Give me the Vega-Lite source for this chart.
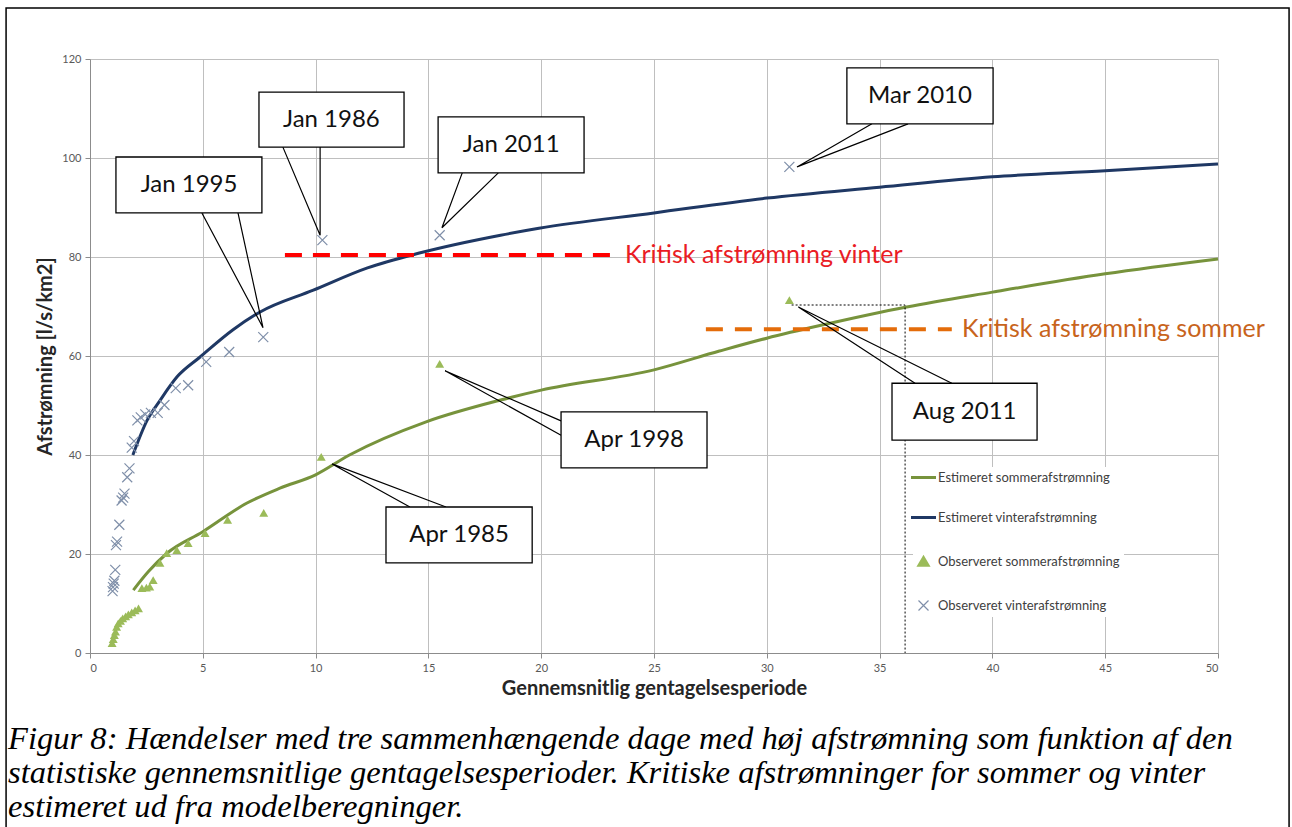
{
  "$schema": "https://vega.github.io/schema/vega-lite/v6.json",
  "width": 1128,
  "height": 594,
  "autosize": "none",
  "padding": {"left": 90, "top": 59, "right": 74, "bottom": 174},
  "background": "white",
  "title": {
    "text": [
      "Figur 8: Hændelser med tre sammenhængende dage med høj afstrømning som funktion af den",
      "statistiske gennemsnitlige gentagelsesperioder. Kritiske afstrømninger for sommer og vinter",
      "estimeret ud fra modelberegninger."
    ],
    "orient": "bottom",
    "anchor": "start",
    "frame": "group",
    "dx": -82,
    "offset": -109,
    "font": "Liberation Serif",
    "fontStyle": "italic",
    "fontWeight": "normal",
    "fontSize": 32.6,
    "lineHeight": 34,
    "color": "#000000",
    "baseline": "top"
  },
  "config": {
    "view": {"stroke": null},
    "font": "Lato",
    "axis": {
      "gridColor": "#bfbfbf",
      "gridWidth": 1,
      "domainColor": "#8c8c8c",
      "tickColor": "#8c8c8c",
      "tickSize": 5,
      "labelFont": "Lato",
      "labelFontSize": 11,
      "labelColor": "#595959",
      "titleFont": "Lato",
      "titleFontSize": 20,
      "titleFontWeight": "bold",
      "titleColor": "#262626"
    }
  },
  "datasets": {
    "est": [
      {"series": "Estimeret sommerafstrømning", "x": 1.92, "y": 12.7},
      {"series": "Estimeret sommerafstrømning", "x": 2.6, "y": 16.5},
      {"series": "Estimeret sommerafstrømning", "x": 3.4, "y": 20.1},
      {"series": "Estimeret sommerafstrømning", "x": 5.0, "y": 24.5},
      {"series": "Estimeret sommerafstrømning", "x": 6.96, "y": 30.3},
      {"series": "Estimeret sommerafstrømning", "x": 8.42, "y": 33.3},
      {"series": "Estimeret sommerafstrømning", "x": 10.0, "y": 36.0},
      {"series": "Estimeret sommerafstrømning", "x": 11.5, "y": 40.0},
      {"series": "Estimeret sommerafstrømning", "x": 14.9, "y": 46.7},
      {"series": "Estimeret sommerafstrømning", "x": 18.2, "y": 51.1},
      {"series": "Estimeret sommerafstrømning", "x": 20.0, "y": 53.1},
      {"series": "Estimeret sommerafstrømning", "x": 25.0, "y": 57.2},
      {"series": "Estimeret sommerafstrømning", "x": 27.9, "y": 61.0},
      {"series": "Estimeret sommerafstrømning", "x": 30.0, "y": 63.6},
      {"series": "Estimeret sommerafstrømning", "x": 32.5, "y": 66.3},
      {"series": "Estimeret sommerafstrømning", "x": 36.2, "y": 69.9},
      {"series": "Estimeret sommerafstrømning", "x": 40.0, "y": 72.9},
      {"series": "Estimeret sommerafstrømning", "x": 45.0, "y": 76.6},
      {"series": "Estimeret sommerafstrømning", "x": 50.0, "y": 79.6},
      {"series": "Estimeret vinterafstrømning", "x": 1.9, "y": 40.0},
      {"series": "Estimeret vinterafstrømning", "x": 2.53, "y": 47.0},
      {"series": "Estimeret vinterafstrømning", "x": 3.1, "y": 51.0},
      {"series": "Estimeret vinterafstrømning", "x": 3.86, "y": 55.8},
      {"series": "Estimeret vinterafstrømning", "x": 4.88, "y": 59.8},
      {"series": "Estimeret vinterafstrømning", "x": 6.34, "y": 65.3},
      {"series": "Estimeret vinterafstrømning", "x": 7.54, "y": 68.9},
      {"series": "Estimeret vinterafstrømning", "x": 9.9, "y": 73.3},
      {"series": "Estimeret vinterafstrømning", "x": 12.3, "y": 77.8},
      {"series": "Estimeret vinterafstrømning", "x": 14.6, "y": 80.8},
      {"series": "Estimeret vinterafstrømning", "x": 18.2, "y": 84.4},
      {"series": "Estimeret vinterafstrømning", "x": 19.9, "y": 85.8},
      {"series": "Estimeret vinterafstrømning", "x": 25.0, "y": 88.9},
      {"series": "Estimeret vinterafstrømning", "x": 30.0, "y": 91.9},
      {"series": "Estimeret vinterafstrømning", "x": 35.0, "y": 94.1},
      {"series": "Estimeret vinterafstrømning", "x": 40.0, "y": 96.2},
      {"series": "Estimeret vinterafstrømning", "x": 45.0, "y": 97.4},
      {"series": "Estimeret vinterafstrømning", "x": 50.0, "y": 98.8}
    ],
    "obs": [
      {"series": "Observeret sommerafstrømning", "x": 0.98, "y": 2.0},
      {"series": "Observeret sommerafstrømning", "x": 1.03, "y": 2.8},
      {"series": "Observeret sommerafstrømning", "x": 1.08, "y": 3.6},
      {"series": "Observeret sommerafstrømning", "x": 1.13, "y": 4.3},
      {"series": "Observeret sommerafstrømning", "x": 1.18, "y": 5.3},
      {"series": "Observeret sommerafstrømning", "x": 1.25, "y": 6.0},
      {"series": "Observeret sommerafstrømning", "x": 1.35, "y": 6.5},
      {"series": "Observeret sommerafstrømning", "x": 1.45, "y": 7.0},
      {"series": "Observeret sommerafstrømning", "x": 1.58, "y": 7.4},
      {"series": "Observeret sommerafstrømning", "x": 1.7, "y": 7.8},
      {"series": "Observeret sommerafstrømning", "x": 1.85, "y": 8.2},
      {"series": "Observeret sommerafstrømning", "x": 2.0, "y": 8.6},
      {"series": "Observeret sommerafstrømning", "x": 2.15, "y": 9.0},
      {"series": "Observeret sommerafstrømning", "x": 2.3, "y": 13.1},
      {"series": "Observeret sommerafstrømning", "x": 2.5, "y": 13.2},
      {"series": "Observeret sommerafstrømning", "x": 2.65, "y": 13.4},
      {"series": "Observeret sommerafstrømning", "x": 2.8, "y": 14.7},
      {"series": "Observeret sommerafstrømning", "x": 3.1, "y": 18.2},
      {"series": "Observeret sommerafstrømning", "x": 3.4, "y": 20.2},
      {"series": "Observeret sommerafstrømning", "x": 3.85, "y": 20.8},
      {"series": "Observeret sommerafstrømning", "x": 4.35, "y": 22.2},
      {"series": "Observeret sommerafstrømning", "x": 5.1, "y": 24.2},
      {"series": "Observeret sommerafstrømning", "x": 6.1, "y": 26.9},
      {"series": "Observeret sommerafstrømning", "x": 7.7, "y": 28.3},
      {"series": "Observeret sommerafstrømning", "x": 10.25, "y": 39.6},
      {"series": "Observeret sommerafstrømning", "x": 15.5, "y": 58.4},
      {"series": "Observeret sommerafstrømning", "x": 31.0, "y": 71.3},
      {"series": "Observeret vinterafstrømning", "x": 1.0, "y": 12.5},
      {"series": "Observeret vinterafstrømning", "x": 1.02, "y": 13.3},
      {"series": "Observeret vinterafstrømning", "x": 1.05, "y": 14.0},
      {"series": "Observeret vinterafstrømning", "x": 1.08, "y": 14.6},
      {"series": "Observeret vinterafstrømning", "x": 1.12, "y": 16.8},
      {"series": "Observeret vinterafstrømning", "x": 1.15, "y": 21.8},
      {"series": "Observeret vinterafstrømning", "x": 1.2, "y": 22.5},
      {"series": "Observeret vinterafstrømning", "x": 1.3, "y": 25.9},
      {"series": "Observeret vinterafstrømning", "x": 1.4, "y": 30.8},
      {"series": "Observeret vinterafstrømning", "x": 1.47, "y": 31.4},
      {"series": "Observeret vinterafstrømning", "x": 1.53, "y": 32.2},
      {"series": "Observeret vinterafstrømning", "x": 1.65, "y": 35.5},
      {"series": "Observeret vinterafstrømning", "x": 1.75, "y": 37.3},
      {"series": "Observeret vinterafstrømning", "x": 1.85, "y": 41.5},
      {"series": "Observeret vinterafstrømning", "x": 1.95, "y": 42.8},
      {"series": "Observeret vinterafstrømning", "x": 2.1, "y": 47.0},
      {"series": "Observeret vinterafstrømning", "x": 2.25, "y": 47.6},
      {"series": "Observeret vinterafstrømning", "x": 2.45, "y": 48.2},
      {"series": "Observeret vinterafstrømning", "x": 2.7, "y": 48.5},
      {"series": "Observeret vinterafstrømning", "x": 3.0, "y": 48.5},
      {"series": "Observeret vinterafstrømning", "x": 3.3, "y": 50.1},
      {"series": "Observeret vinterafstrømning", "x": 3.8, "y": 53.5},
      {"series": "Observeret vinterafstrømning", "x": 4.35, "y": 54.1},
      {"series": "Observeret vinterafstrømning", "x": 5.15, "y": 58.8},
      {"series": "Observeret vinterafstrømning", "x": 6.17, "y": 60.8},
      {"series": "Observeret vinterafstrømning", "x": 7.68, "y": 63.8},
      {"series": "Observeret vinterafstrømning", "x": 10.3, "y": 83.4},
      {"series": "Observeret vinterafstrømning", "x": 15.5, "y": 84.4},
      {"series": "Observeret vinterafstrømning", "x": 31.0, "y": 98.2}
    ],
    "boxes": [
      {"label": "Jan 1995", "x1": 1.15, "x2": 7.62, "y1": 100.2, "y2": 88.9, "cx": 4.39, "cy": 94.55},
      {"label": "Jan 1986", "x1": 7.49, "x2": 13.92, "y1": 113.3, "y2": 102.2, "cx": 10.7, "cy": 107.75},
      {"label": "Jan 2011", "x1": 15.43, "x2": 21.9, "y1": 108.3, "y2": 97.0, "cx": 18.67, "cy": 102.65},
      {"label": "Mar 2010", "x1": 33.55, "x2": 40.03, "y1": 118.2, "y2": 106.9, "cx": 36.79, "cy": 112.55},
      {"label": "Apr 1998", "x1": 20.88, "x2": 27.35, "y1": 48.7, "y2": 37.4, "cx": 24.12, "cy": 43.05},
      {"label": "Apr 1985", "x1": 13.12, "x2": 19.6, "y1": 29.5, "y2": 18.2, "cx": 16.36, "cy": 23.85},
      {"label": "Aug 2011", "x1": 35.55, "x2": 41.98, "y1": 54.5, "y2": 43.0, "cx": 38.77, "cy": 48.75}
    ],
    "wedges": [
      {"name": "Jan 1995", "i": 0, "x": 4.96, "y": 88.9},
      {"name": "Jan 1995", "i": 1, "x": 7.67, "y": 65.7},
      {"name": "Jan 1995", "i": 2, "x": 6.56, "y": 88.9},
      {"name": "Jan 1986", "i": 0, "x": 8.55, "y": 102.2},
      {"name": "Jan 1986", "i": 1, "x": 10.2, "y": 84.4},
      {"name": "Jan 1986", "i": 2, "x": 10.2, "y": 102.2},
      {"name": "Jan 2011", "i": 0, "x": 16.5, "y": 97.0},
      {"name": "Jan 2011", "i": 1, "x": 15.6, "y": 85.9},
      {"name": "Jan 2011", "i": 2, "x": 18.1, "y": 97.0},
      {"name": "Mar 2010", "i": 0, "x": 34.66, "y": 106.9},
      {"name": "Mar 2010", "i": 1, "x": 31.34, "y": 98.2},
      {"name": "Mar 2010", "i": 2, "x": 36.26, "y": 106.9},
      {"name": "Apr 1998", "i": 0, "x": 20.88, "y": 46.9},
      {"name": "Apr 1998", "i": 1, "x": 15.74, "y": 57.0},
      {"name": "Apr 1998", "i": 2, "x": 20.88, "y": 44.0},
      {"name": "Apr 1985", "i": 0, "x": 14.18, "y": 29.5},
      {"name": "Apr 1985", "i": 1, "x": 10.73, "y": 38.2},
      {"name": "Apr 1985", "i": 2, "x": 15.78, "y": 29.5},
      {"name": "Aug 2011", "i": 0, "x": 36.57, "y": 54.5},
      {"name": "Aug 2011", "i": 1, "x": 31.4, "y": 69.9},
      {"name": "Aug 2011", "i": 2, "x": 38.2, "y": 54.5}
    ],
    "crit": [
      {"kind": "vinter", "x": 8.64, "x2": 23.2, "y": 80.4, "label": "Kritisk afstrømning vinter", "lx": 23.71},
      {"kind": "sommer", "x": 27.3, "x2": 38.2, "y": 65.4, "label": "Kritisk afstrømning sommer", "lx": 38.65}
    ],
    "dotted": [
      {"i": 0, "x": 31.1, "y": 70.3},
      {"i": 1, "x": 36.13, "y": 70.3},
      {"i": 2, "x": 36.13, "y": 0}
    ],
    "frame": [
      {"x": -3.72, "x2": 53.15, "y": 130.3, "y2": -36}
    ]
  },
  "layer": [
    {
      "data": {"name": "est"},
      "mark": {"type": "line", "strokeWidth": 3, "interpolate": "monotone"},
      "encoding": {
        "x": {
          "field": "x", "type": "quantitative",
          "scale": {"domain": [0, 50], "nice": false, "zero": false},
          "axis": {"title": "Gennemsnitlig gentagelsesperiode", "values": [0, 5, 10, 15, 20, 25, 30, 35, 40, 45, 50], "grid": true, "labelPadding": 4, "titlePadding": 5}
        },
        "y": {
          "field": "y", "type": "quantitative",
          "scale": {"domain": [0, 120], "nice": false, "zero": false},
          "axis": {"title": "Afstrømning [l/s/km2]", "values": [0, 20, 40, 60, 80, 100, 120], "grid": true, "labelPadding": 4, "titlePadding": 6}
        },
        "color": {
          "field": "series", "type": "nominal",
          "scale": {
            "domain": ["Estimeret sommerafstrømning", "Estimeret vinterafstrømning", "Observeret sommerafstrømning", "Observeret vinterafstrømning"],
            "range": ["#77933c", "#1f3864", "#9bbb59", "#7f8fa9"]
          },
          "legend": {
            "title": null,
            "orient": "none",
            "legendX": 823,
            "legendY": 408,
            "labelFont": "Lato",
            "labelFontSize": 13,
            "labelColor": "#404040",
            "labelOffset": 8,
            "labelLimit": 400,
            "symbolSize": 625,
            "rowPadding": 26,
            "fillColor": "white",
            "padding": 4,
            "encode": {
              "symbols": {
                "update": {
                  "shape": {"signal": "datum.value === 'Observeret sommerafstrømning' ? 'triangle-up' : (datum.value === 'Observeret vinterafstrømning' ? 'M-1,-1L1,1M-1,1L1,-1' : 'stroke')"},
                  "fill": {"signal": "datum.value === 'Observeret sommerafstrømning' ? '#9bbb59' : 'transparent'"},
                  "stroke": {"signal": "datum.value === 'Observeret sommerafstrømning' ? 'transparent' : scale('color', datum.value)"},
                  "strokeWidth": {"signal": "datum.value === 'Observeret vinterafstrømning' ? 1.2 : 3"},
                  "size": {"signal": "datum.value === 'Observeret sommerafstrømning' ? 80 : (datum.value === 'Observeret vinterafstrømning' ? 100 : 625)"},
                  "opacity": {"value": 1}
                }
              }
            }
          }
        }
      }
    },
    {
      "data": {"name": "frame"},
      "mark": {"type": "rect", "fill": null, "stroke": "#000000", "strokeWidth": 1.5, "clip": false},
      "encoding": {
        "x": {"field": "x", "type": "quantitative"},
        "x2": {"field": "x2"},
        "y": {"field": "y", "type": "quantitative"},
        "y2": {"field": "y2"}
      }
    },
    {
      "data": {"name": "obs"},
      "transform": [{"filter": "datum.series === 'Observeret sommerafstrømning'"}],
      "mark": {"type": "point", "shape": "triangle-up", "filled": true, "size": 80, "opacity": 1},
      "encoding": {
        "x": {"field": "x", "type": "quantitative"},
        "y": {"field": "y", "type": "quantitative"},
        "color": {"field": "series", "type": "nominal"}
      }
    },
    {
      "data": {"name": "obs"},
      "transform": [{"filter": "datum.series === 'Observeret vinterafstrømning'"}],
      "mark": {"type": "point", "shape": "M-1,-1L1,1M-1,1L1,-1", "filled": false, "size": 100, "strokeWidth": 1.2, "opacity": 1},
      "encoding": {
        "x": {"field": "x", "type": "quantitative"},
        "y": {"field": "y", "type": "quantitative"},
        "color": {"field": "series", "type": "nominal"}
      }
    },
    {
      "data": {"name": "crit"},
      "transform": [{"filter": "datum.kind === 'vinter'"}],
      "mark": {"type": "rule", "stroke": "#ff0000", "strokeWidth": 4, "strokeDash": [17, 11]},
      "encoding": {
        "x": {"field": "x", "type": "quantitative"},
        "x2": {"field": "x2"},
        "y": {"field": "y", "type": "quantitative"}
      }
    },
    {
      "data": {"name": "crit"},
      "transform": [{"filter": "datum.kind === 'sommer'"}],
      "mark": {"type": "rule", "stroke": "#e46c0a", "strokeWidth": 4, "strokeDash": [17, 12]},
      "encoding": {
        "x": {"field": "x", "type": "quantitative"},
        "x2": {"field": "x2"},
        "y": {"field": "y", "type": "quantitative"}
      }
    },
    {
      "data": {"name": "crit"},
      "transform": [{"filter": "datum.kind === 'vinter'"}],
      "mark": {"type": "text", "align": "left", "baseline": "middle", "font": "Lato", "fontSize": 25, "color": "#ea1c24", "clip": false},
      "encoding": {
        "x": {"field": "lx", "type": "quantitative"},
        "y": {"field": "y", "type": "quantitative"},
        "text": {"field": "label"}
      }
    },
    {
      "data": {"name": "crit"},
      "transform": [{"filter": "datum.kind === 'sommer'"}],
      "mark": {"type": "text", "align": "left", "baseline": "middle", "font": "Lato", "fontSize": 25, "color": "#c8641c", "clip": false},
      "encoding": {
        "x": {"field": "lx", "type": "quantitative"},
        "y": {"field": "y", "type": "quantitative"},
        "text": {"field": "label"}
      }
    },
    {
      "data": {"name": "dotted"},
      "mark": {"type": "line", "stroke": "#000000", "strokeWidth": 1, "strokeDash": [2, 2]},
      "encoding": {
        "x": {"field": "x", "type": "quantitative"},
        "y": {"field": "y", "type": "quantitative"},
        "order": {"field": "i"}
      }
    },
    {
      "data": {"name": "wedges"},
      "mark": {"type": "line", "stroke": "#000000", "strokeWidth": 1.2, "interpolate": "linear"},
      "encoding": {
        "x": {"field": "x", "type": "quantitative"},
        "y": {"field": "y", "type": "quantitative"},
        "detail": {"field": "name"},
        "order": {"field": "i"}
      }
    },
    {
      "data": {"name": "boxes"},
      "mark": {"type": "rect", "fill": "#ffffff", "stroke": "#000000", "strokeWidth": 1.3},
      "encoding": {
        "x": {"field": "x1", "type": "quantitative"},
        "x2": {"field": "x2"},
        "y": {"field": "y1", "type": "quantitative"},
        "y2": {"field": "y2"}
      }
    },
    {
      "data": {"name": "boxes"},
      "mark": {"type": "text", "align": "center", "baseline": "middle", "font": "Lato", "fontSize": 24, "color": "#111111"},
      "encoding": {
        "x": {"field": "cx", "type": "quantitative"},
        "y": {"field": "cy", "type": "quantitative"},
        "text": {"field": "label"}
      }
    }
  ]
}
